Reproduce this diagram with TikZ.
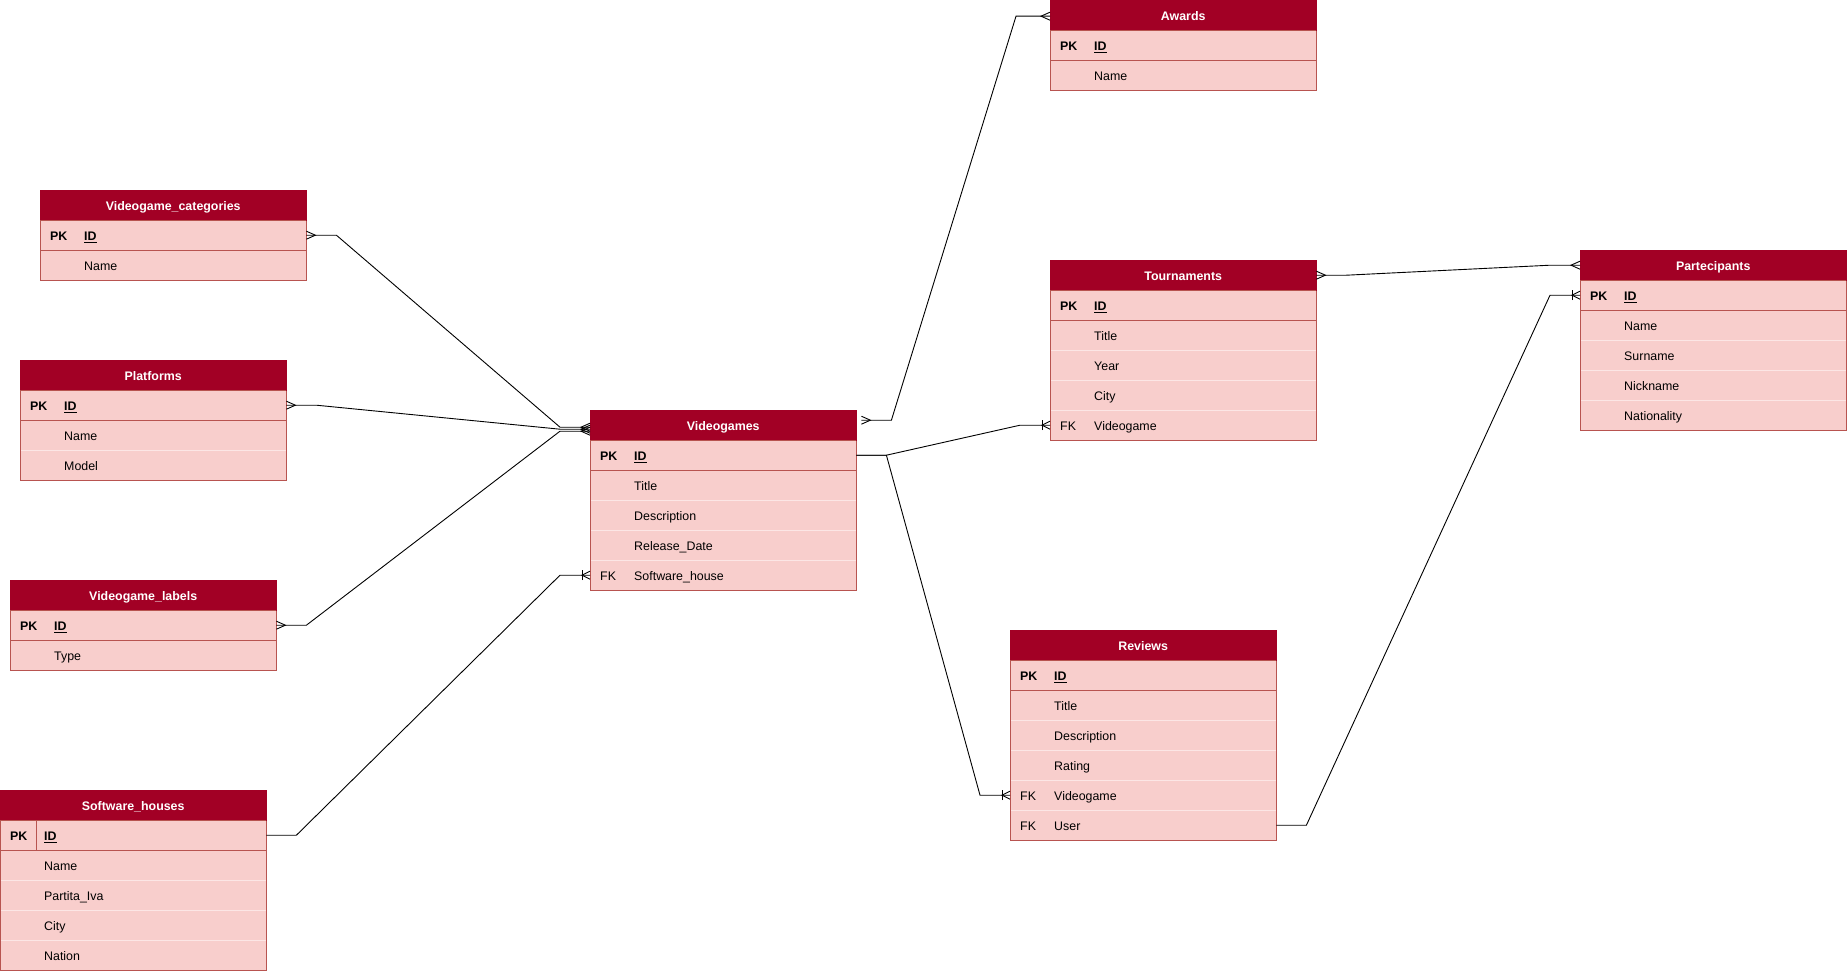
\documentclass[tikz,border=0pt]{standalone}
\usepackage{fontspec}
\setmainfont{Liberation Sans}
\usetikzlibrary{calc}
\definecolor{hdrfill}{HTML}{A20025}
\definecolor{rowfill}{HTML}{F8CECC}
\definecolor{tabline}{HTML}{B85450}
\definecolor{sepline}{HTML}{FCE6E5}

\tikzset{
  hdr/.style={rectangle, minimum width=266pt, minimum height=30pt, inner sep=0pt, fill=hdrfill, draw=hdrfill, anchor=north west},
  rowbox/.style={rectangle, minimum width=266pt, minimum height=30pt, inner sep=0pt, fill=rowfill, anchor=north west},
  celltxt/.style={inner sep=0pt, anchor=base west, font=\fontsize{12.4}{14}\selectfont},
  hdrtxt/.style={inner sep=0pt, anchor=base, text=white, font=\fontsize{12.4}{14}\selectfont\bfseries},
  conn/.style={draw=black, line width=0.9pt},
  crowmany/.pic={\draw[conn] (0,-4) -- (9,0) -- (0,4);},
  crowone/.pic={\draw[conn] (0,-4) -- (8,0) -- (0,4); \draw[conn] (8,-5) -- (8,5);},
}

\newcommand\pkey{\textbf{PK}}
\newcommand\pid{\underline{\textbf{ID}}}

\newcommand\ertab[6]{%
  \foreach [count=\i] \k/\f in {#6} {
    \node[rowbox] (#1-\i) at (#2,#3+30*\i) {};
    \ifnum\i>2 \draw[sepline, line width=1pt] (#1-\i.north west) -- (#1-\i.north east); \fi
    \node[celltxt] (#1-\i-k) at ($(#1-\i.west)+(10,5.3)$) {\k};
    \node[celltxt] (#1-\i-f) at ($(#1-\i.west)+(44,5.3)$) {\f};
  }
  \draw[tabline] (#1-1.south west) -- (#1-1.south east);
  \draw[tabline] (#2,#3) rectangle ++(266,30*#4+30);
  \node[hdr] (#1-0) at (#2,#3) {};
  \node[hdrtxt] (#1-t) at ($(#1-0.center)+(0,5.3)$) {#5};
  \draw[tabline] (#1-0.south west) -- (#1-0.south east);
}

\begin{document}
\begin{tikzpicture}[x=1pt, y=-1pt]
\useasboundingbox (0,0) rectangle (1847,971);

\ertab{aw}{1050}{0}{2}{Awards}{\pkey/\pid, /Name}
\ertab{vc}{40}{190}{2}{Videogame\_categories}{\pkey/\pid, /Name}
\ertab{tn}{1050}{260}{5}{Tournaments}{\pkey/\pid, /Title, /Year, /City, FK/Videogame}
\ertab{pa}{1580}{250}{5}{Partecipants}{\pkey/\pid, /Name, /Surname, /Nickname, /Nationality}
\ertab{pl}{20}{360}{3}{Platforms}{\pkey/\pid, /Name, /Model}
\ertab{vg}{590}{410}{5}{Videogames}{\pkey/\pid, /Title, /Description, /Release\_Date, FK/Software\_house}
\ertab{vl}{10}{580}{2}{Videogame\_labels}{\pkey/\pid, /Type}
\ertab{sh}{0}{790}{5}{Software\_houses}{\pkey/\pid, /Name, /Partita\_Iva, /City, /Nation}
\ertab{rv}{1010}{630}{6}{Reviews}{\pkey/\pid, /Title, /Description, /Rating, FK/Videogame, FK/User}
\draw[tabline] ($(sh-1.north west)+(36,0)$) -- ($(sh-1.south west)+(36,0)$);

% connectors
\draw[conn] (vc-1.east) -- ++(30,0) -- ($(vg-0.west)+(-30,2)$) -- ($(vg-0.west)+(0,2)$);
\pic at (vc-1.east) {crowmany};
\pic[rotate=180] at ($(vg-0.west)+(0,2)$) {crowmany};

\draw[conn] (pl-1.east) -- ++(30,0) -- ($(vg-0.west)+(-30,4)$) -- ($(vg-0.west)+(0,4)$);
\pic at (pl-1.east) {crowmany};
\pic[rotate=180] at ($(vg-0.west)+(0,4)$) {crowmany};

\draw[conn] (vl-1.east) -- ++(30,0) -- ($(vg-0.west)+(-30,6)$) -- ($(vg-0.west)+(0,6)$);
\pic at (vl-1.east) {crowmany};
\pic[rotate=180] at ($(vg-0.west)+(0,6)$) {crowmany};

\draw[conn] (sh-1.east) -- ++(30,0) -- ($(vg-5.west)+(-30,0)$) -- (vg-5.west);
\pic[rotate=180] at (vg-5.west) {crowone};

\coordinate (vgaw) at ($(vg-0.east)+(5,-5)$);
\draw[conn] (vgaw) -- ++(30,0) -- ($(aw-0.west)+(-34,1)$) -- ($(aw-0.west)+(0,1)$);
\pic at (vgaw) {crowmany};
\pic[rotate=180] at ($(aw-0.west)+(0,1)$) {crowmany};

\draw[conn] (vg-1.east) -- ++(30,0) -- ($(tn-5.west)+(-30,0)$) -- (tn-5.west);
\pic[rotate=180] at (tn-5.west) {crowone};

\draw[conn] (vg-1.east) -- ++(30,0) -- ($(rv-5.west)+(-30,0)$) -- (rv-5.west);
\pic[rotate=180] at (rv-5.west) {crowone};

\draw[conn] (rv-6.east) -- ++(30,0) -- ($(pa-1.west)+(-30,0)$) -- (pa-1.west);
\pic[rotate=180] at (pa-1.west) {crowone};

\draw[conn] (tn-0.east) -- ++(30,0) -- ($(pa-0.west)+(-30,0)$) -- (pa-0.west);
\pic at (tn-0.east) {crowmany};
\pic[rotate=180] at (pa-0.west) {crowmany};
\end{tikzpicture}
\end{document}
